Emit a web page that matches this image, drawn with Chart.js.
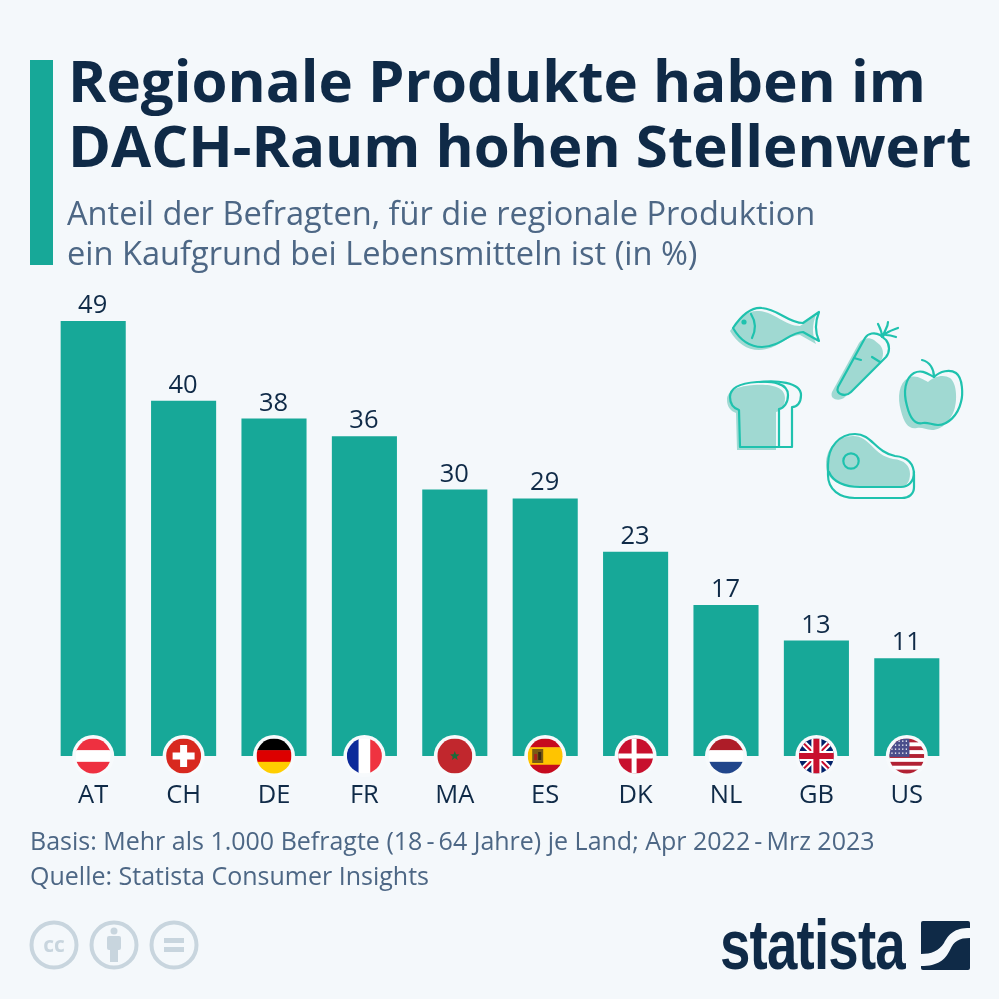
<!DOCTYPE html>
<html lang="de">
<head>
<meta charset="utf-8">
<title>Regionale Produkte</title>
<script src="https://cdn.jsdelivr.net/npm/chart.js@4/dist/chart.umd.min.js"></script>
<style>
  html, body { margin: 0; padding: 0; background: #f4f8fb; }
  body { width: 999px; height: 999px; position: relative; overflow: hidden; font-family: "Open Sans", sans-serif; }
  #myChart { position: absolute; left: 0; top: 0; }
  .txt { position: absolute; white-space: nowrap; }
  #accent { position: absolute; left: 30px; top: 60px; width: 23px; height: 205px; background: #17a898; }
  .title { left: 68px; font-size: 58.2px; line-height: 66px; font-weight: 700; color: #0f2a47; }
  .sub { left: 67px; font-size: 32.6px; line-height: 40px; color: #4d6785; }
  .foot { left: 30px; font-size: 25px; line-height: 34px; color: #4d6785; }
  .tight { word-spacing: -2.4px; }
  #brand { left: 720px; top: 905px; font-family: "Liberation Sans", sans-serif; font-weight: 700; font-size: 70px; line-height: 80px; color: #0f2a47; transform-origin: 0 0; transform: scaleX(0.78); letter-spacing: -1px; }
  svg { position: absolute; }
</style>
</head>
<body>
<canvas id="myChart" width="999" height="999"></canvas>

<div id="accent"></div>
<div class="txt title" style="top:47px">Regionale Produkte haben im</div>
<div class="txt title" style="top:112px">DACH-Raum hohen Stellenwert</div>
<div class="txt sub" style="top:193px">Anteil der Befragten, für die regionale Produktion</div>
<div class="txt sub" style="top:233px">ein Kaufgrund bei Lebensmitteln ist (in %)</div>
<div class="txt foot" style="top:823px">Basis: Mehr als 1.000 Befragte (<span class="tight">18 - 64</span> Jahre) je Land; Apr <span class="tight">2022 - Mrz</span> 2023</div>
<div class="txt foot" style="top:858px">Quelle: Statista Consumer Insights</div>

<!-- food icons: fill is the outline shifted a bit down-left -->
<svg style="left:710px;top:300px" width="270" height="210" viewBox="0 0 270 210">
  <defs>
    <path id="fish" d="M23 28 C33 13 42 7 52 8 C68 9 78 23 93 23 L109 12 C105 22 105 32 109 41 L93 32 C80 32 70 47 52 47 C40 47 30 40 23 28Z"/>
    <path id="bread" d="M30 147 L29 110 C23 108 20 103 20 97 C20 87 32 83 47 82 C62 81 78 83 78 95 C78 103 74 108 69 109 L69 147 Z"/>
    <path id="carrot" d="M128 87 L155 38 C158 33 165 32 170 35 L176 40 C180 45 180 52 176 57 L141 92 C136 97 125 95 128 87Z"/>
    <path id="apple" d="M224 77 C230 71 240 69 246 73 C253 78 253 95 251 102 C248 115 238 125 228 125 C222 125 218 122 213 123 C205 125 200 118 197 106 C193 92 195 78 204 73 C212 69 218 74 224 77Z"/>
  </defs>
  <g fill="#a0d9d2">
    <use href="#fish" transform="translate(-3,3)"/>
    <use href="#bread" transform="translate(-3,3)"/>
    <use href="#carrot" transform="translate(-6,5)"/>
    <use href="#apple" transform="translate(-6,5)"/>
    <path d="M116 165 C116 147 128 136 143 136 C160 136 163 155 183 159 C195 160 200 166 200 174 C200 182 196 187 190 187 L150 187 C130 187 116 180 116 165Z"/>
  </g>
  <g fill="none" stroke="#1fc2ae" stroke-width="2.2" stroke-linejoin="round" stroke-linecap="round">
    <use href="#fish"/>
    <path d="M41 14 C46 22 46 30 42 38"/>
    <use href="#bread"/>
    <path d="M50 82 C65 80 91 82 91 95 C91 103 87 107 82 107 L82 147 L69 147"/>
    <use href="#carrot"/>
    <path d="M144 58 L151 60 M162 57 L170 62"/>
    <path d="M172 37 C172 31 170 28 168 24 M173 37 C174 30 178 28 178 22 M174 35 C178 31 183 30 188 28 M176 35 C180 35 183 36 186 37"/>
    <use href="#apple"/>
    <path d="M224 77 C224 69 220 62 212 60"/>
    <path d="M118 165 C118 146 130 134 145 134 C162 134 165 152 185 156 C197 157 204 163 204 175 L204 187 C204 194 199 198 192 198 L145 198 C130 198 118 190 118 175Z"/>
    <circle cx="141" cy="161" r="7.7"/>
    <path d="M119 172 C123 182 135 187 150 187 L190 187 M191 187 C198 187 204 182 204 172"/>
  </g>
  <circle cx="34" cy="22" r="2.6" fill="#1fc2ae"/>
</svg>

<!-- cc icons -->
<svg style="left:28px;top:920px" width="174" height="50" viewBox="0 0 174 50">
  <g fill="none" stroke="#c8d5de" stroke-width="4">
    <circle cx="26" cy="25" r="22.5"/><circle cx="86" cy="25" r="22.5"/><circle cx="146" cy="25" r="22.5"/>
  </g>
  <text x="26" y="32" text-anchor="middle" font-family="Open Sans" font-weight="700" font-size="21" fill="#c8d5de">cc</text>
  <g fill="#c8d5de">
    <circle cx="86" cy="11" r="3.5"/>
    <rect x="79" y="16" width="14" height="14" rx="2"/>
    <rect x="82" y="28" width="8" height="14"/>
    <rect x="136" y="18" width="20" height="5"/>
    <rect x="136" y="27" width="20" height="5"/>
  </g>
</svg>

<div class="txt" id="brand">statista</div>
<svg style="left:921px;top:921px" width="49" height="49" viewBox="0 0 49 49">
  <rect width="49" height="49" rx="2" fill="#0f2a47"/>
  <path d="M0 33 C10 33 18 30 23 22 C28 13 33 7 49 7 L49 17 C38 17 33 20 29 29 C24 39 17 45 0 45Z" fill="#f4f8fb"/>
</svg>

<script>
const categories = ['AT', 'CH', 'DE', 'FR', 'MA', 'ES', 'DK', 'NL', 'GB', 'US'];
const shares = [49, 40, 38, 36, 30, 29, 23, 17, 13, 11];

const barColor = '#17a898';
const darkText = '#0f2a47';

function stripesH(c, x, y, r, colors) {
  const h = 2 * r / colors.length;
  colors.forEach(function (col, i) {
    c.fillStyle = col;
    c.fillRect(x - r, y - r + i * h, 2 * r, h + 0.5);
  });
}

function stripesV(c, x, y, r, colors) {
  const w = 2 * r / colors.length;
  colors.forEach(function (col, i) {
    c.fillStyle = col;
    c.fillRect(x - r + i * w, y - r, w + 0.5, 2 * r);
  });
}

function star(c, x, y, r) {
  c.beginPath();
  for (let i = 0; i < 10; i++) {
    const a = -Math.PI / 2 + i * Math.PI / 5;
    const rr = i % 2 ? r * 0.42 : r;
    c.lineTo(x + rr * Math.cos(a), y + rr * Math.sin(a));
  }
  c.closePath();
  c.fill();
}

const flags = {
  AT: function (c, x, y, r) { stripesH(c, x, y, r, ['#ee3040', '#ffffff', '#ee3040']); },
  CH: function (c, x, y, r) {
    c.fillStyle = '#d8291f'; c.fillRect(x - r, y - r, 2 * r, 2 * r);
    c.fillStyle = '#fff';
    c.fillRect(x - 3.5, y - 11, 7, 22);
    c.fillRect(x - 11, y - 3.5, 22, 7);
  },
  DE: function (c, x, y, r) { stripesH(c, x, y, r, ['#000000', '#dd0000', '#ffce00']); },
  FR: function (c, x, y, r) { stripesV(c, x, y, r, ['#0c2a9a', '#ffffff', '#ef3340']); },
  MA: function (c, x, y, r) {
    c.fillStyle = '#c1272d'; c.fillRect(x - r, y - r, 2 * r, 2 * r);
    c.fillStyle = '#1a6b3a'; star(c, x, y, 5);
  },
  ES: function (c, x, y, r) {
    stripesH(c, x, y, r, ['#c60b1e', '#ffc400', '#ffc400', '#c60b1e']);
    c.fillStyle = '#7a5a14'; c.fillRect(x - 13, y - 7, 11, 14);
    c.fillStyle = '#a8201a'; c.fillRect(x - 11, y - 2, 3, 6);
    c.fillStyle = '#3a2a10'; c.fillRect(x - 7, y - 4, 3, 8);
  },
  DK: function (c, x, y, r) {
    c.fillStyle = '#c8102e'; c.fillRect(x - r, y - r, 2 * r, 2 * r);
    c.fillStyle = '#fff';
    c.fillRect(x - 4, y - r, 5, 2 * r);
    c.fillRect(x - r, y - 2.5, 2 * r, 5);
  },
  NL: function (c, x, y, r) { stripesH(c, x, y, r, ['#ae1c28', '#ffffff', '#21468b']); },
  GB: function (c, x, y, r) {
    c.fillStyle = '#012169'; c.fillRect(x - r, y - r, 2 * r, 2 * r);
    c.strokeStyle = '#fff'; c.lineWidth = 6;
    c.beginPath();
    c.moveTo(x - r, y - r); c.lineTo(x + r, y + r);
    c.moveTo(x + r, y - r); c.lineTo(x - r, y + r);
    c.stroke();
    c.strokeStyle = '#c8102e'; c.lineWidth = 2;
    c.stroke();
    c.fillStyle = '#fff';
    c.fillRect(x - 5, y - r, 10, 2 * r);
    c.fillRect(x - r, y - 5, 2 * r, 10);
    c.fillStyle = '#c8102e';
    c.fillRect(x - 3, y - r, 6, 2 * r);
    c.fillRect(x - r, y - 3, 2 * r, 6);
  },
  US: function (c, x, y, r) {
    const h = 2 * r / 9;
    for (let i = 0; i < 9; i++) {
      c.fillStyle = i % 2 ? '#ffffff' : '#b22234';
      c.fillRect(x - r, y - r + i * h, 2 * r, h + 0.5);
    }
    c.fillStyle = '#4a4f8c';
    c.fillRect(x - r, y - r, r * 1.15, r * 1.05);
    c.fillStyle = '#fff';
    for (let row = 0; row < 4; row++) {
      for (let col = 0; col < 5; col++) {
        c.fillRect(x - r + 2 + col * 3.6, y - r + 2 + row * 4, 1.3, 1.3);
      }
    }
  }
};

// value on top of each bar + round flag on the baseline
const barExtras = {
  id: 'barExtras',
  afterDatasetsDraw: function (chart) {
    const c = chart.ctx;
    const meta = chart.getDatasetMeta(0);
    const base = chart.scales.y.getPixelForValue(0);
    meta.data.forEach(function (bar, i) {
      c.save();
      c.fillStyle = darkText;
      c.font = '25.5px "Open Sans"';
      c.textAlign = 'center';
      c.textBaseline = 'alphabetic';
      c.fillText(String(shares[i]), bar.x - 0.5, bar.y - 8);
      c.restore();

      c.save();
      c.beginPath();
      c.arc(bar.x, base, 21, 0, Math.PI * 2);
      c.fillStyle = '#f7fafc';
      c.fill();
      c.beginPath();
      c.arc(bar.x, base, 17.5, 0, Math.PI * 2);
      c.clip();
      flags[categories[i]](c, bar.x, base, 17.5);
      c.restore();
    });
  }
};

const ctx = document.getElementById('myChart');

new Chart(ctx, {
  type: 'bar',
  data: {
    labels: categories,
    datasets: [{
      label: 'Anteil',
      data: shares,
      backgroundColor: barColor,
      borderWidth: 0,
      barPercentage: 0.72,
      categoryPercentage: 1
    }]
  },
  options: {
    responsive: false,
    animation: false,
    devicePixelRatio: 1,
    layout: { padding: { left: 48, right: 47, top: 312, bottom: 0 } },
    plugins: { legend: { display: false }, tooltip: { enabled: false } },
    scales: {
      x: {
        grid: { display: false },
        border: { display: false },
        afterFit: function (scale) { scale.height = 243; },
        ticks: {
          color: darkText,
          font: { family: 'Open Sans', size: 25.5 },
          maxRotation: 0,
          autoSkip: false,
          padding: 16
        }
      },
      y: { display: false, min: 0, max: 50 }
    }
  },
  plugins: [barExtras]
});
</script>
</body>
</html>
